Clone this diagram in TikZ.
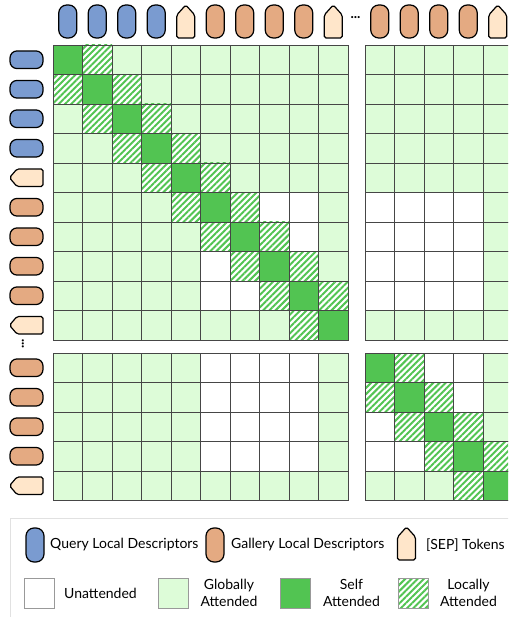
\documentclass[tikz,border=0pt]{standalone}
\usepackage{fontspec}
\setmainfont{Lato}
\usetikzlibrary{patterns.meta}
\definecolor{selfg}{RGB}{82,196,82}
\definecolor{globg}{RGB}{221,252,216}
\definecolor{qblue}{RGB}{122,155,208}
\definecolor{gorange}{RGB}{228,170,130}
\definecolor{sepc}{RGB}{255,230,202}
\definecolor{gridc}{RGB}{70,70,70}
\definecolor{legbd}{RGB}{225,225,225}
\begin{document}
\begin{tikzpicture}[x=1pt,y=-1pt,
  cellbase/.style={draw=gridc, line width=0.8pt, minimum size=29.5pt, inner sep=0pt, outer sep=0pt},
  cellglob/.style={cellbase, fill=globg},
  cellself/.style={cellbase, fill=selfg},
  cellwhite/.style={cellbase, fill=white},
  hatchfill/.style={preaction={fill=white}, pattern={Lines[angle=45,distance=4.4pt,line width=2pt]}, pattern color=selfg},
  celllocal/.style={cellbase, hatchfill},
  tokbase/.style={draw=black, line width=1.2pt, inner sep=0pt, outer sep=0pt},
  tokv/.style={tokbase, rounded corners=8pt, minimum width=18pt, minimum height=33pt},
  tokh/.style={tokbase, rounded corners=7pt, minimum width=33pt, minimum height=17.6pt},
  qtokv/.style={tokv, fill=qblue},
  gtokv/.style={tokv, fill=gorange},
  qtokh/.style={tokh, fill=qblue},
  gtokh/.style={tokh, fill=gorange},
  sepup/.pic={\draw[fill=sepc, line width=1.2pt, rounded corners=1.8pt] (-9,16.5) -- (-9,-6.5) -- (0,-16.5) -- (9,-6.5) -- (9,16.5) -- cycle;},
  sepleft/.pic={\draw[fill=sepc, line width=1.2pt, rounded corners=1.8pt] (16.5,-8.8) -- (-9.5,-8.8) -- (-17,0) -- (-9.5,8.8) -- (16.5,8.8) -- cycle;},
  legsq/.style={draw=gray!80, line width=0.8pt, minimum size=30pt, inner sep=0pt},
  legtxt/.style={font=\fontsize{14}{17}\selectfont, inner sep=0pt, align=center},
  dotsty/.style={font=\bfseries\fontsize{14}{14}\selectfont, inner sep=0pt},
]
\useasboundingbox (0,0) rectangle (508,617);
\clip (0,0) rectangle (508,617);
\fill[white] (0,0) rectangle (508,617);

% grid cells
\foreach \i in {0,...,14}{
  \foreach \j in {0,...,14}{
    \pgfmathsetmacro\cx{\j<10 ? 67.75+29.5*\j : 379.75+29.5*(\j-10)}
    \pgfmathsetmacro\cy{\i<10 ? 59.75+29.5*\i : 367.75+29.5*(\i-10)}
    \pgfmathtruncatemacro\ti{{0,0,0,0,1,2,2,2,2,1,2,2,2,2,1}[\i]}
    \pgfmathtruncatemacro\tj{{0,0,0,0,1,2,2,2,2,1,2,2,2,2,1}[\j]}
    \pgfmathtruncatemacro\si{\i>9 ? 1 : 0}
    \pgfmathtruncatemacro\sj{\j>9 ? 1 : 0}
    \pgfmathtruncatemacro\dd{abs(\i-\j)}
    \pgfmathtruncatemacro\st{(\si==\sj && \dd==0) ? 2 : ((\si==\sj && \dd==1) ? 3 : ((\ti==2 && \tj==2) ? 1 : 0))}
    \ifcase\st
      \node[cellglob] (c-\i-\j) at (\cx,\cy) {};
    \or
      \node[cellwhite] (c-\i-\j) at (\cx,\cy) {};
    \or
      \node[cellself] (c-\i-\j) at (\cx,\cy) {};
    \or
      \node[celllocal] (c-\i-\j) at (\cx,\cy) {};
    \fi
  }
}

% top and left tokens
\foreach \k in {0,...,14}{
  \pgfmathsetmacro\cx{\k<10 ? 67.75+29.5*\k : 379.75+29.5*(\k-10)}
  \pgfmathsetmacro\cy{\k<10 ? 59.75+29.5*\k : 367.75+29.5*(\k-10)}
  \pgfmathtruncatemacro\tokT{{0,0,0,0,1,2,2,2,2,1,2,2,2,2,1}[\k]}
  \ifcase\tokT
    \node[qtokv] (top\k) at (\cx,21.5) {};
    \node[qtokh] (left\k) at (26.5,\cy) {};
  \or
    \pic (top\k) at (\cx,21.5) {sepup};
    \pic (left\k) at (26.5,\cy) {sepleft};
  \or
    \node[gtokv] (top\k) at (\cx,21.5) {};
    \node[gtokh] (left\k) at (26.5,\cy) {};
  \fi
}

% ellipses
\node[dotsty] (dotst) at (355.5,18) {...};
\node[dotsty, rotate=90] (dotsl) at (23,344) {...};

% legend
\draw[legbd, line width=1pt] (10,518) rectangle (530,640);
\node[qtokv, minimum height=34pt] (lgq) at (35,545) {};
\node[legtxt, anchor=west] (lgqt) at (50,545) {Query Local Descriptors};
\node[gtokv, minimum height=34pt] (lgg) at (215,545) {};
\node[legtxt, anchor=west] (lggt) at (231,545) {Gallery Local Descriptors};
\pic (lgs) at (406.5,543.5) {sepup};
\node[legtxt, anchor=west] (lgst) at (426,545) {[SEP] Tokens};

\node[legsq, fill=white] (lu) at (39,593) {};
\node[legtxt] (lut) at (100.5,593) {Unattended};
\node[legsq, fill=globg] (lgl) at (173,593) {};
\node[legtxt] (lglt) at (229,593) {Globally\\Attended};
\node[legsq, fill=selfg] (lsf) at (295.5,593) {};
\node[legtxt] (lsft) at (351.5,593) {Self\\Attended};
\node[legsq, hatchfill] (llc) at (413,593) {};
\node[legtxt] (llct) at (468.5,593) {Locally\\Attended};
\end{tikzpicture}
\end{document}
